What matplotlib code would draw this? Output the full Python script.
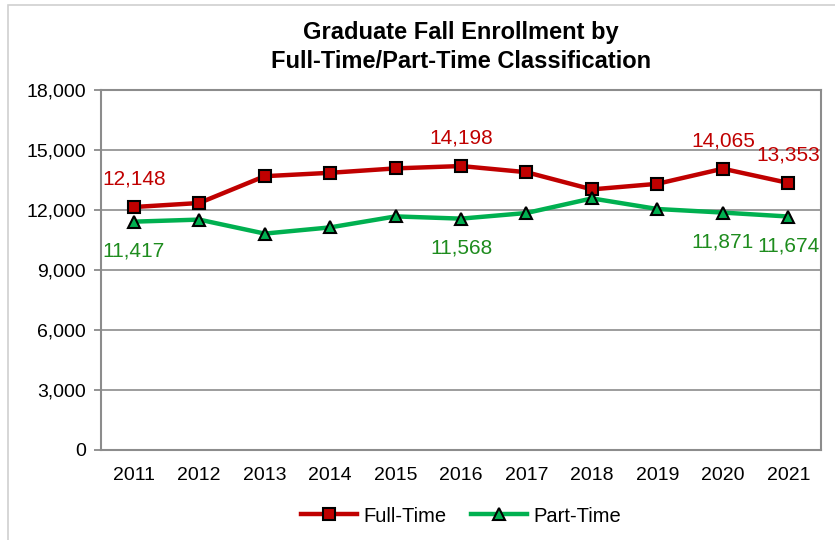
import matplotlib.pyplot as plt
from matplotlib.patches import Rectangle

plt.rcParams['font.family'] = ['Liberation Sans', 'DejaVu Sans']

# Data
years = ['2011', '2012', '2013', '2014', '2015', '2016',
         '2017', '2018', '2019', '2020', '2021']
full_time = [12148, 12350, 13690, 13860, 14080, 14198,
             13890, 13030, 13310, 14065, 13353]
part_time = [11417, 11520, 10820, 11130, 11680, 11568,
             11850, 12580, 12050, 11871, 11674]
# which points carry a value label
labelled = [0, 5, 9, 10]

red = '#C00000'
green = '#00B050'
green_text = '#1E8C1E'

fig = plt.figure(figsize=(8.35, 5.4), dpi=100)
ax = fig.add_axes([101 / 835, 90 / 540, 720 / 835, 360 / 540])

x = list(range(len(years)))
ax.plot(x, full_time, color=red, lw=3.2, marker='s', markersize=9,
        markerfacecolor=red, markeredgecolor='black', markeredgewidth=1.5,
        label='Full-Time', zorder=3)
ax.plot(x, part_time, color=green, lw=3.2, marker='^', markersize=9,
        markerfacecolor=green, markeredgecolor='black', markeredgewidth=1.5,
        label='Part-Time', zorder=3)

# value labels
for i in labelled:
    ax.annotate(f'{full_time[i]:,}', (x[i], full_time[i]), xytext=(0, 20),
                textcoords='offset points', ha='center', va='center',
                color=red, fontsize=15)
    ax.annotate(f'{part_time[i]:,}', (x[i], part_time[i]), xytext=(0, -21),
                textcoords='offset points', ha='center', va='center',
                color=green_text, fontsize=15)

ax.set_xlim(-0.5, len(years) - 0.5)
ax.set_ylim(0, 18000)
ax.set_yticks(range(0, 18001, 3000))
ax.set_yticklabels([f'{v:,}' for v in range(0, 18001, 3000)])
ax.set_xticks(x)
ax.set_xticklabels(years)
ax.tick_params(axis='x', length=0, pad=12, labelsize=14)
ax.tick_params(axis='y', length=5, color='#808080', width=1.2, pad=6, labelsize=14)
ax.grid(axis='y', color='#8C8C8C', lw=1.2)
ax.set_axisbelow(True)
for s in ax.spines.values():
    s.set_color('#8C8C8C')
    s.set_linewidth(1.5)

cx = 0.5 * (101 + 821) / 835
fig.text(cx, 1 - 33 / 540, 'Graduate Fall Enrollment by',
         ha='center', va='center', fontsize=17, fontweight='bold')
fig.text(cx, 1 - 62 / 540, 'Full-Time/Part-Time Classification',
         ha='center', va='center', fontsize=17, fontweight='bold')

ax.legend(loc='center', bbox_to_anchor=(cx, 1 - 516 / 540),
          bbox_transform=fig.transFigure, ncol=2, frameon=False, fontsize=14.5,
          handlelength=2.8, columnspacing=1.2, handletextpad=0.3)

# chart outer border
fig.patches.append(Rectangle((8 / 835, -0.1), 1.2, 1.1 - 5 / 540,
                             transform=fig.transFigure, fill=False,
                             edgecolor='#D0D0D0', lw=1.2))

fig.savefig('out.png', dpi=100)
